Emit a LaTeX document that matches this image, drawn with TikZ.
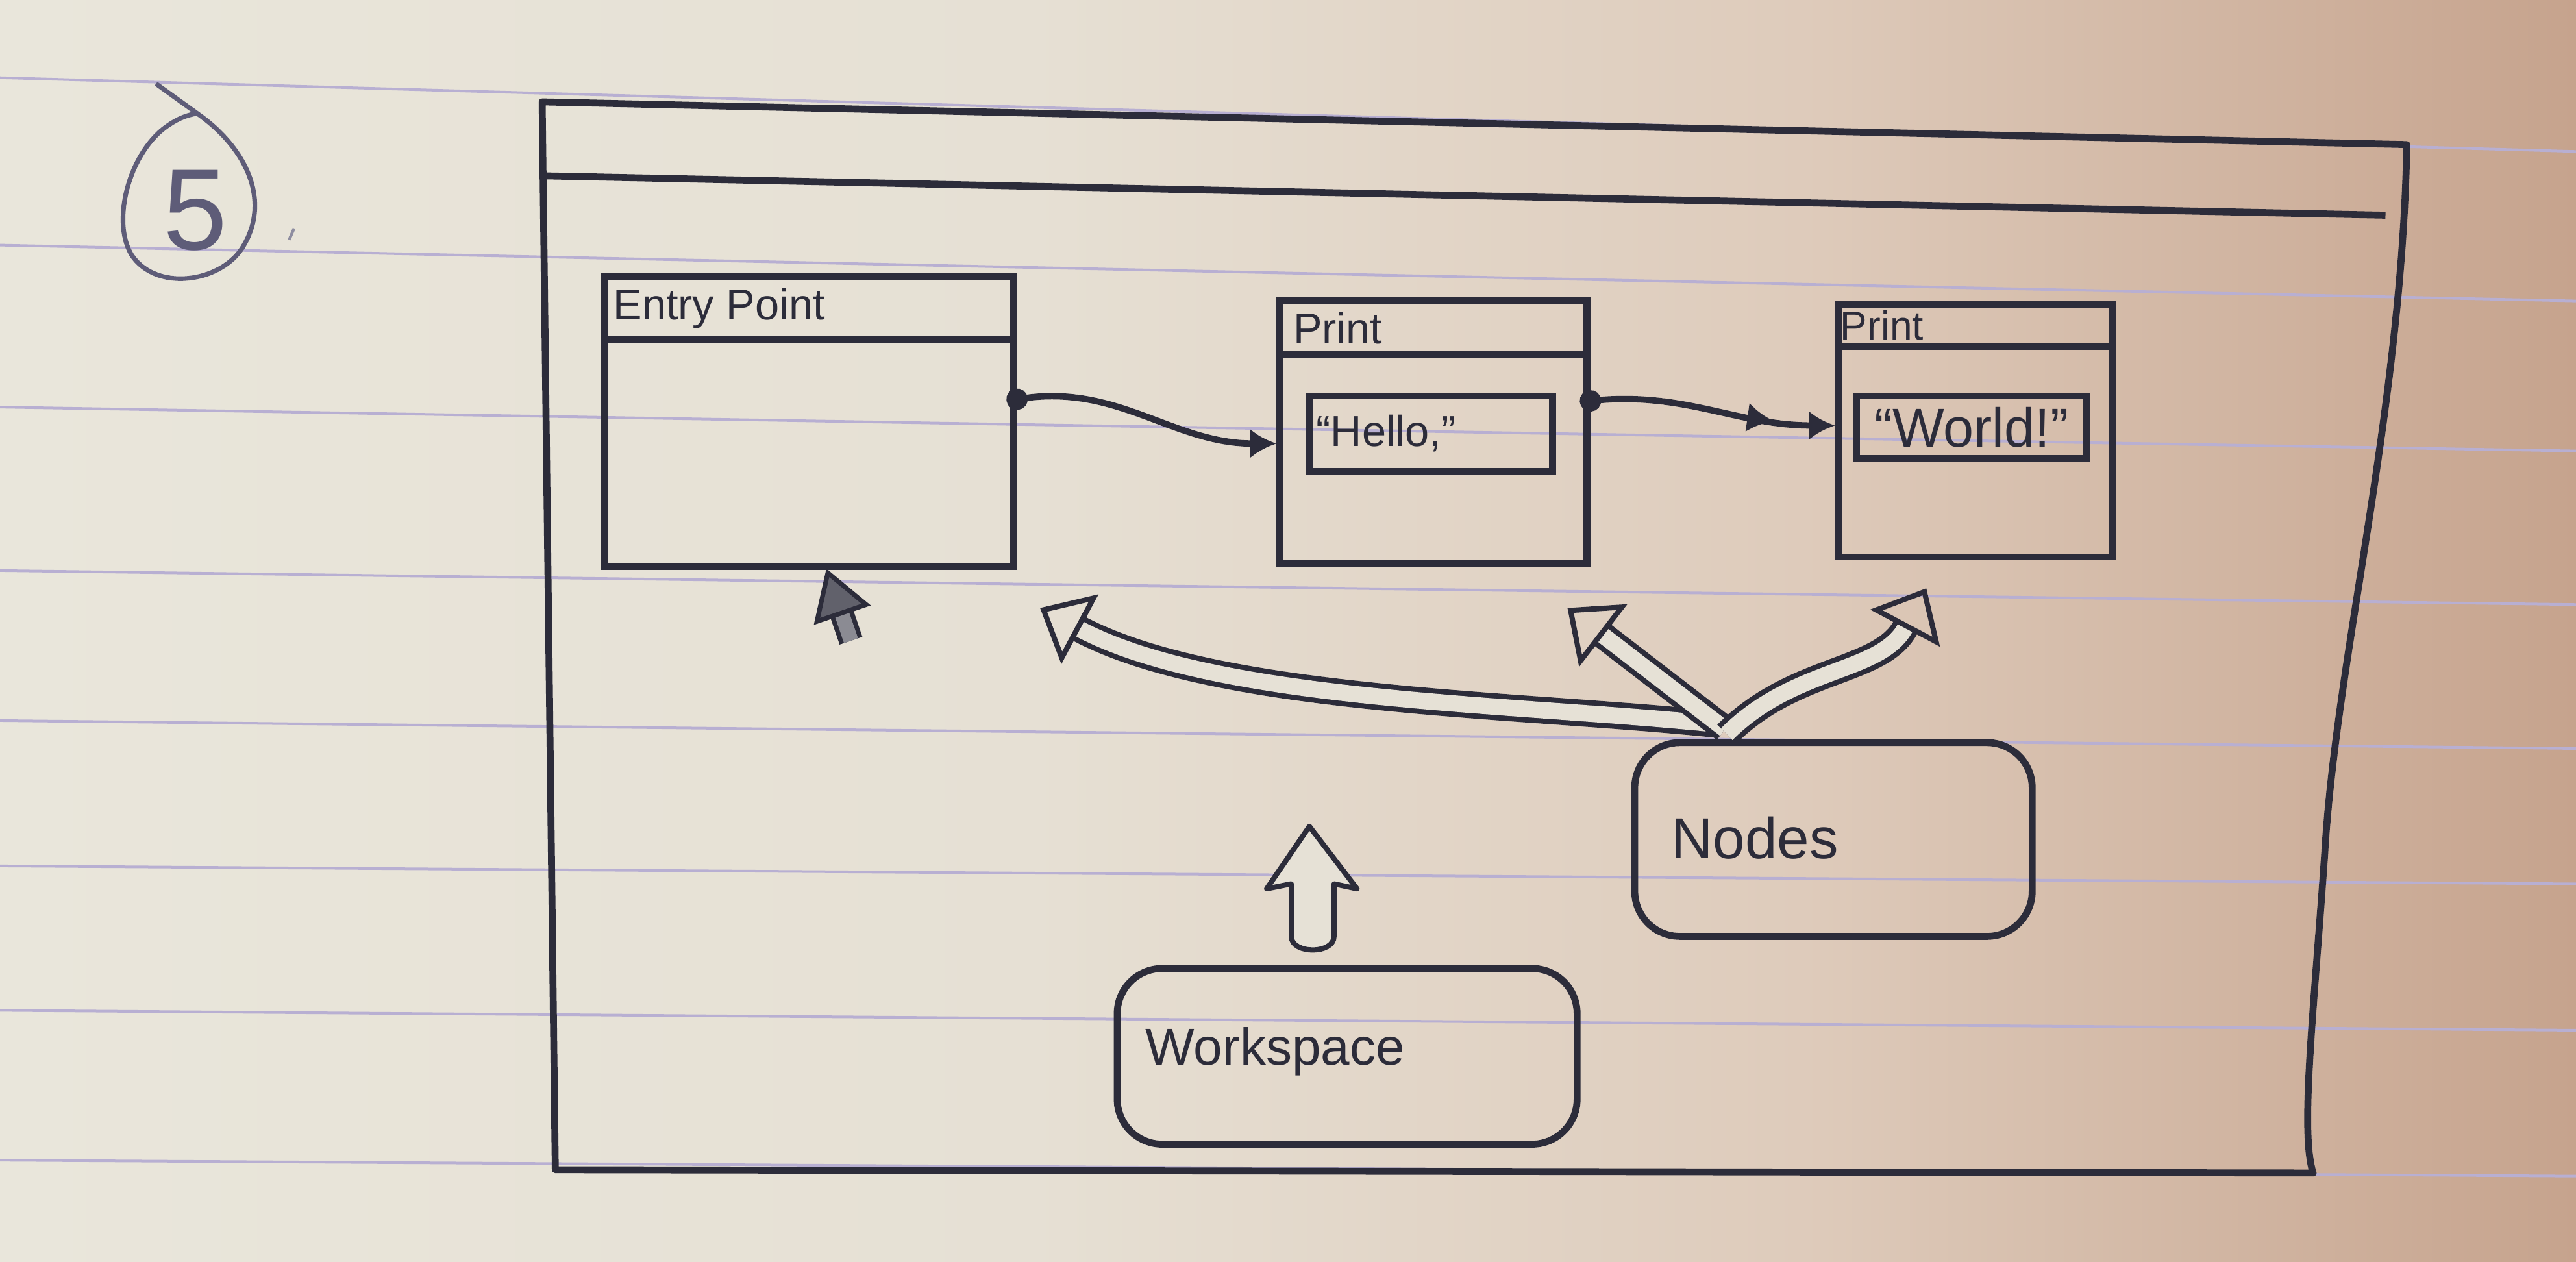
\documentclass[tikz,border=0pt]{standalone}
\usepackage{fontspec}
\setmainfont{Liberation Sans}
\usetikzlibrary{arrows.meta,decorations.markings,calc}
\definecolor{ink}{HTML}{2C2C3A}
\definecolor{pencilc}{HTML}{5E5C78}
\definecolor{rulec}{HTML}{B8AFD2}
\definecolor{paper}{HTML}{E6E1D6}
\definecolor{pA}{HTML}{E9E6DB}
\definecolor{pB}{HTML}{E6E0D4}
\definecolor{pC}{HTML}{DECBBB}
\definecolor{pD}{HTML}{C6A38D}
\pgfdeclarehorizontalshading{paperfade}{100bp}{color(0bp)=(pA); color(25bp)=(pA); color(45bp)=(pB); color(60bp)=(pC); color(75bp)=(pD); color(100bp)=(pD)}
\tikzset{
  box/.style={draw=ink, line width=2.4pt, rectangle, inner sep=0pt},
  blob/.style={draw=ink, line width=2.4pt, rectangle, rounded corners=0.55cm, inner sep=0pt},
  hline/.style={draw=ink, line width=2.4pt},
  txt/.style={text=ink, inner sep=0pt, anchor=west},
  link/.style={color=ink, line width=2.2pt, shorten <=-0.13cm, {Circle[length=0.26cm]}-{Latex[length=0.32cm,width=0.36cm]}},
  hollow/.style={draw=ink, line width=1.8pt, double=paper, double distance=0.2cm,
    -{Triangle[open, length=0.55cm, width=0.95cm, line width=1.8pt]}},
  hatched/.style={draw=ink, line width=1.6pt, double=ink!55, double distance=0.18cm,
    -{Triangle[length=0.6cm, width=0.72cm, fill=ink!75, line width=1.6pt]}},
}
\begin{document}
\begin{tikzpicture}[x=0.02cm,y=0.02cm]
\useasboundingbox (0,0) rectangle (1568,-768);
\shade[shading=paperfade] (0,0) rectangle (1568,-768);
% ruled paper lines
\foreach \a/\b in {47.3/92.2, 149.2/183.2, 247.8/274.5, 347.3/368, 438.6/455.6, 527.1/538, 615/627.1, 706.2/715.9}
  \draw[color=rulec, line width=0.9pt] (0,-\a) -- (1568,-\b);
% page number badge
\draw[color=pencilc, line width=1.6pt] (95,-51) -- (120,-69) .. controls (150,-90) and (165,-122) .. (148,-150) .. controls (135,-172) and (95,-178) .. (80,-155) .. controls (68,-135) and (78,-95) .. (100,-78) .. controls (108,-72) and (114,-70) .. (120,-69);
\node[text=pencilc, inner sep=0pt, font=\fontsize{40}{40}\selectfont] (num) at (119,-128) {5};
\draw[color=pencilc!70, line width=1pt] (176,-146) -- (179,-139);
% window frame
\draw[color=ink, line width=2.4pt, line join=round] (330,-62) -- (1465,-88) .. controls (1462,-250) and (1422,-400) .. (1415,-520) .. controls (1408,-620) and (1400,-690) .. (1408,-714) -- (338,-712) -- cycle;
\draw[hline] (330,-107) -- (1452,-131);
% Entry Point box
\node[box, minimum width=4.98cm, minimum height=3.54cm] (entry) at (492.5,-256.5) {};
\draw[hline] ([yshift=-0.82cm]entry.north west) -- ([yshift=-0.82cm]entry.north east);
\node[txt, font=\fontsize{15}{15}\selectfont] (entrytitle) at ([xshift=0.14cm,yshift=-0.44cm]entry.north west) {Entry Point};
% Print 1
\node[box, minimum width=3.74cm, minimum height=3.2cm] (p1) at (872.5,-263) {};
\draw[hline] ([yshift=-0.7cm]p1.north west) -- ([yshift=-0.7cm]p1.north east);
\node[txt, font=\fontsize{15}{15}\selectfont] (p1title) at ([xshift=0.2cm,yshift=-0.38cm]p1.north west) {Print};
\node[box, minimum width=2.96cm, minimum height=0.92cm] (hello) at (871,-264) {};
\node[txt, font=\fontsize{15}{15}\selectfont] (hellotext) at ([xshift=0.12cm]hello.west) {“Hello,”};
% Print 2
\node[box, minimum width=3.34cm, minimum height=3.08cm] (p2) at (1202.5,-262) {};
\draw[hline] ([yshift=-0.56cm]p2.north west) -- ([yshift=-0.56cm]p2.north east);
\node[txt, font=\fontsize{14}{14}\selectfont] (p2title) at ([xshift=0.06cm,yshift=-0.3cm]p2.north west) {Print};
\node[box, minimum width=2.8cm, minimum height=0.76cm] (world) at (1200,-260) {};
\node[text=ink, inner sep=0pt, font=\fontsize{19}{19}\selectfont] (worldtext) at (world.center) {“World!”};
% Nodes and Workspace
\node[blob, minimum width=4.84cm, minimum height=2.36cm] (nodes) at (1116,-511) {};
\node[txt, font=\fontsize{20}{20}\selectfont] (nodestext) at (1017,-510) {Nodes};
\node[blob, minimum width=5.6cm, minimum height=2.14cm] (ws) at (820,-643) {};
\node[txt, font=\fontsize{18}{18}\selectfont] (wstext) at (697,-640) {Workspace};
% execution links
\draw[link] ([yshift=0.27cm]entry.east) to[out=8, in=180] ([yshift=-0.14cm]p1.west);
\draw[link, postaction={decorate}, decoration={markings, mark=at position -0.75cm with {\arrow{Latex[length=0.32cm,width=0.36cm]}}}] ([yshift=0.38cm]p1.east) to[out=5, in=180] ([yshift=0.06cm]p2.west);
% hollow arrows from Nodes
\draw[hollow] ([xshift=-1.42cm,yshift=0.18cm]nodes.north) to[out=174, in=-28, looseness=0.75] ([xshift=0.28cm,yshift=-0.46cm]entry.south east);
\draw[hollow] ([xshift=-1.32cm,yshift=0.12cm]nodes.north) -- ([xshift=-0.28cm,yshift=-0.5cm]p1.south east);
\draw[hollow] ([xshift=-1.3cm,yshift=0.06cm]nodes.north) to[out=45, in=-118] ([xshift=-0.6cm,yshift=-0.34cm]p2.south);
% small arrow under Entry Point
\coordinate (dtail) at (518,-390);
\draw[hatched] (dtail) -- ([xshift=0.21cm,yshift=0.02cm]entry.south);
% Workspace block arrow
\draw[color=ink, line width=1.8pt, fill=paper, line join=round] (786,-570) -- (786,-538) -- (771,-541) -- (797,-503) -- (826,-541) -- (812,-538) -- (812,-570) .. controls (812,-581) and (786,-581) .. (786,-570) -- cycle;
\end{tikzpicture}
\end{document}
